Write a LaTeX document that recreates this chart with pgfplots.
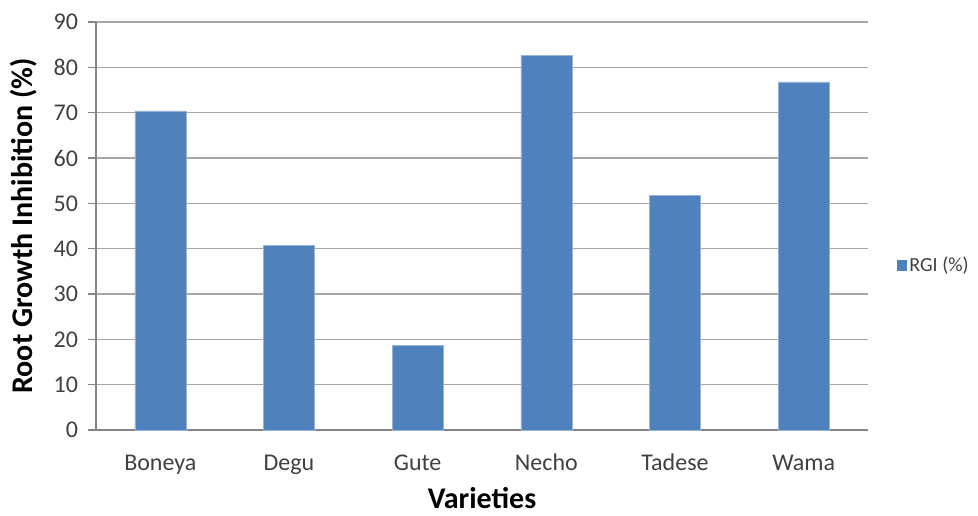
\documentclass[border=0pt]{standalone}
\usepackage{pgfplots}
\pgfplotsset{compat=1.18}
\usepackage{fontspec}
\setmainfont{Carlito}
\definecolor{barblue}{HTML}{4F81BD}
\definecolor{gridgray}{HTML}{A6A6A6}
\definecolor{axisgray}{HTML}{868686}
\definecolor{ticktext}{HTML}{404040}
\begin{document}
\begin{tikzpicture}[x=0.75pt,y=0.75pt]
\path[use as bounding box] (0,0) rectangle (978,515);
\begin{axis}[
  at={(96*0.75pt,85*0.75pt)}, anchor=south west,
  scale only axis,
  width=579pt, height=306pt,
  ybar, bar width=38.25pt,
  xmin=-0.5, xmax=5.5,
  ymin=0, ymax=90,
  ytick={0,10,...,90},
  xtick=data,
  xticklabels={Boneya,Degu,Gute,Necho,Tadese,Wama},
  axis x line*=bottom, axis y line*=left,
  axis line style={draw=axisgray, line width=0.9pt},
  ymajorgrids, grid style={draw=gridgray, line width=0.9pt},
  tick align=outside,
  major tick length=6pt,
  x tick style={draw=none},
  y tick style={draw=axisgray, line width=0.9pt},
  /pgf/number format/assume math mode=true,
  ticklabel style={font=\fontsize{18}{21}\selectfont, text=ticktext},
  xticklabel style={anchor=base, yshift=-24pt},
  yticklabel style={xshift=-4pt},
  xlabel={Varieties},
  ylabel={Root Growth Inhibition (\%)},
  label style={font=\fontsize{22.5}{26}\selectfont\bfseries},
  xlabel style={at={(axis description cs:0.5,-0.167)}, anchor=center},
  ylabel style={at={(axis description cs:-0.0933,0.5)}, anchor=center, rotate=0},
  legend style={at={(1.0376,0.404)}, anchor=west, draw=none, fill=none,
    font=\fontsize{15}{18}\selectfont, text=ticktext, inner sep=0pt},
  legend image code/.code={\fill[barblue] (0pt,-3.4pt) rectangle (6.8pt,3.4pt);},
]
\addplot[fill=barblue, draw=barblue!60!white, line width=0.3pt] coordinates {
  (0,70.4) (1,40.8) (2,18.7) (3,82.6) (4,51.8) (5,76.8)
};
\addlegendentry{RGI (\%)}
\end{axis}
\end{tikzpicture}
\end{document}
